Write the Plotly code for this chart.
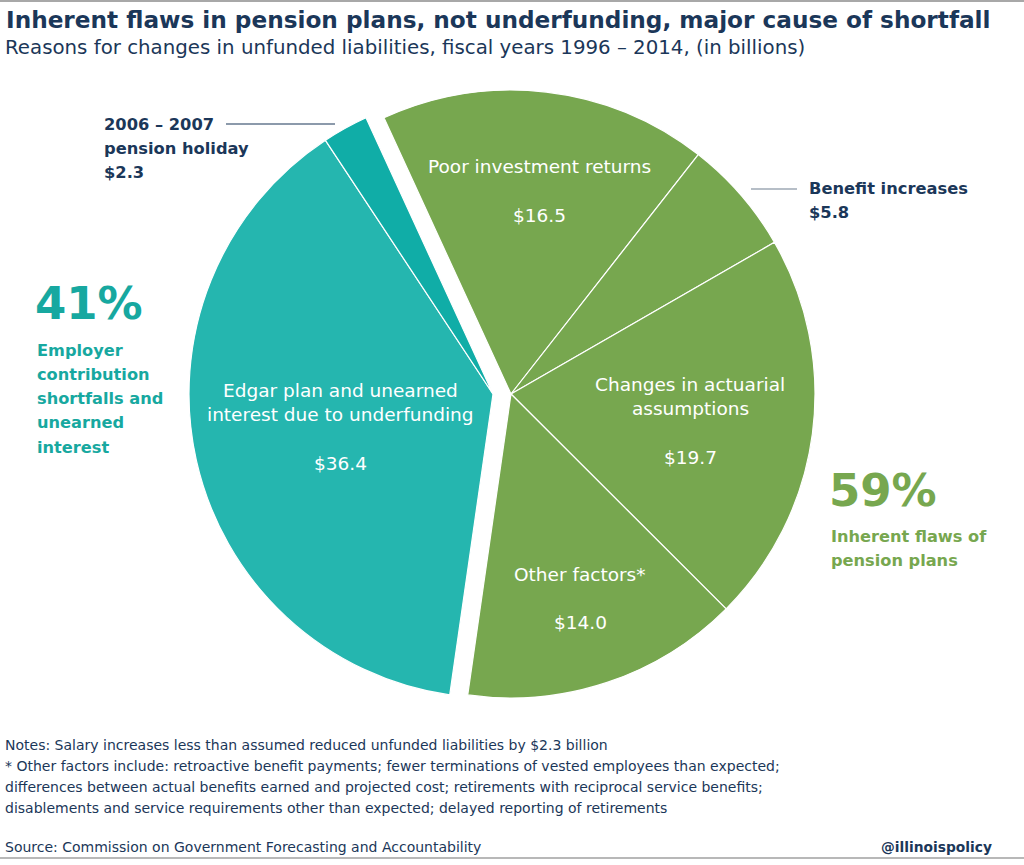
import plotly.graph_objects as go

# ---------------- data ----------------
slice_labels = ["Poor investment returns", "Benefit increases",
                "Changes in actuarial assumptions", "Other factors*",
                "Edgar plan and unearned interest due to underfunding",
                "2006 – 2007 pension holiday"]
slice_values = [16.5, 5.8, 19.7, 14.0, 36.4, 2.3]
slice_group = ["flaws", "flaws", "flaws", "flaws", "underfunding", "underfunding"]

title_text = "Inherent flaws in pension plans, not underfunding, major cause of shortfall"
subtitle_text = "Reasons for changes in unfunded liabilities, fiscal years 1996 – 2014, (in billions)"
notes_lines = [
    "Notes: Salary increases less than assumed reduced unfunded liabilities by $2.3 billion",
    "* Other factors include: retroactive benefit payments; fewer terminations of vested employees than expected;",
    "differences between actual benefits earned and projected cost; retirements with reciprocal service benefits;",
    "disablements and service requirements other than expected; delayed reporting of retirements",
]
source_text = "Source: Commission on Government Forecasting and Accountability"
brand_text = "@illinoispolicy"
group_desc = {"underfunding": ["Employer", "contribution", "shortfalls and", "unearned", "interest"],
              "flaws": ["Inherent flaws of", "pension plans"]}

# ---------------- style ----------------
W, H = 1024, 865
GREEN = "#77A74F"
TEAL = "#25B6AF"
TEAL_DARK = "#10ADA7"
TEAL_TXT = "#17A8A0"
NAVY = "#1B3759"
CLEAR = "rgba(0,0,0,0)"
FONT = "DejaVu Sans"

def px(x):
    return x / W

def py(y):
    return 1 - y / H

total = sum(slice_values)
share = {g: sum(v for v, gg in zip(slice_values, slice_group) if gg == g) / total * 100
         for g in ("flaws", "underfunding")}

R = 304
cx_g, cy = 511, 394
cx_t = 493
rotation = -24.7

def domain(cx):
    return dict(x=[px(cx - R), px(cx + R)], y=[py(cy + R), py(cy - R)])

green_colors = [GREEN if g == "flaws" else CLEAR for g in slice_group]
green_lw = [1.2 if g == "flaws" else 0 for g in slice_group]
teal_colors = [CLEAR, CLEAR, CLEAR, CLEAR, TEAL, TEAL_DARK]
teal_lw = [0 if g == "flaws" else 1.2 for g in slice_group]

fig = go.Figure()
fig.add_trace(go.Pie(values=slice_values, labels=slice_labels, sort=False, direction="clockwise",
                     rotation=rotation, textinfo="none", hoverinfo="skip", showlegend=False,
                     marker=dict(colors=green_colors, line=dict(color="white", width=green_lw)),
                     domain=domain(cx_g)))
fig.add_trace(go.Pie(values=slice_values, labels=slice_labels, sort=False, direction="clockwise",
                     rotation=rotation, textinfo="none", hoverinfo="skip", showlegend=False,
                     marker=dict(colors=teal_colors, line=dict(color="white", width=teal_lw)),
                     domain=domain(cx_t)))

ann = []

def text(x, y, s, size, color, bold=False, xanchor="left", family=FONT):
    ann.append(dict(x=px(x), y=py(y), xref="paper", yref="paper", text=s, showarrow=False,
                    xanchor=xanchor, yanchor="middle",
                    font=dict(family=family, size=size, color=color,
                              weight="bold" if bold else "normal")))

# title / subtitle
text(4, 20, title_text, 23.2, NAVY, bold=True)
text(3, 47, subtitle_text, 19.8, NAVY)

WL = 18.5   # white slice label size
NL = 16.3   # navy bold label size

# slice labels inside
text(539, 167, slice_labels[0], WL, "white", xanchor="center")
text(539, 215, f"${slice_values[0]:.1f}", WL, "white", xanchor="center")

text(807, 189, slice_labels[1], NL, NAVY, bold=True)
text(807, 213, f"${slice_values[1]:.1f}", NL, NAVY, bold=True)

text(690, 384, "Changes in actuarial", WL, "white", xanchor="center")
text(690, 408, "assumptions", WL, "white", xanchor="center")
text(690, 458, f"${slice_values[2]:.1f}", WL, "white", xanchor="center")

text(580, 574, slice_labels[3], WL, "white", xanchor="center")
text(580, 622, f"${slice_values[3]:.1f}", WL, "white", xanchor="center")

text(340, 391, "Edgar plan and unearned", WL, "white", xanchor="center")
text(340, 415, "interest due to underfunding", WL, "white", xanchor="center")
text(340, 464, f"${slice_values[4]:.1f}", WL, "white", xanchor="center")

text(102, 125, "2006 – 2007", NL, NAVY, bold=True)
text(102, 149, "pension holiday", NL, NAVY, bold=True)
text(102, 172, f"${slice_values[5]:.1f}", NL, NAVY, bold=True)

# group summaries
text(33, 303, f"{share['underfunding']:.0f}%", 45, TEAL_TXT, bold=True)
for i, line in enumerate(group_desc["underfunding"]):
    text(35, 350 + i * 24.3, line, 16.2, TEAL_TXT, bold=True)

text(827, 490, f"{share['flaws']:.0f}%", 45, GREEN, bold=True)
for i, line in enumerate(group_desc["flaws"]):
    text(829, 536 + i * 24, line, 16.2, GREEN, bold=True)

# notes
for i, line in enumerate(notes_lines):
    text(3, 745 + i * 21, line, 14.0, NAVY)
text(3, 847, source_text, 14.0, NAVY)
text(994, 847, brand_text, 13.8, NAVY, bold=True, xanchor="right")

shapes = [
    dict(type="line", xref="paper", yref="paper", x0=0, x1=1, y0=py(1), y1=py(1),
         line=dict(color="#A8A8A8", width=2)),
    dict(type="line", xref="paper", yref="paper", x0=0, x1=1, y0=py(858), y1=py(858),
         line=dict(color="#B8B8B8", width=2)),
    dict(type="line", xref="paper", yref="paper", x0=px(226), x1=px(335), y0=py(124), y1=py(124),
         line=dict(color=NAVY, width=1.2)),
    dict(type="line", xref="paper", yref="paper", x0=px(751), x1=px(797), y0=py(189), y1=py(189),
         line=dict(color="#6E7F90", width=1.2)),
]

fig.update_layout(width=W, height=H, margin=dict(l=0, r=0, t=0, b=0),
                  paper_bgcolor="white", plot_bgcolor="white",
                  annotations=ann, shapes=shapes)
fig.write_html("out.html", config={"displayModeBar": False},
               post_script="document.body.style.margin='0';document.body.style.padding='0';"
                           "document.body.style.overflow='hidden';")
